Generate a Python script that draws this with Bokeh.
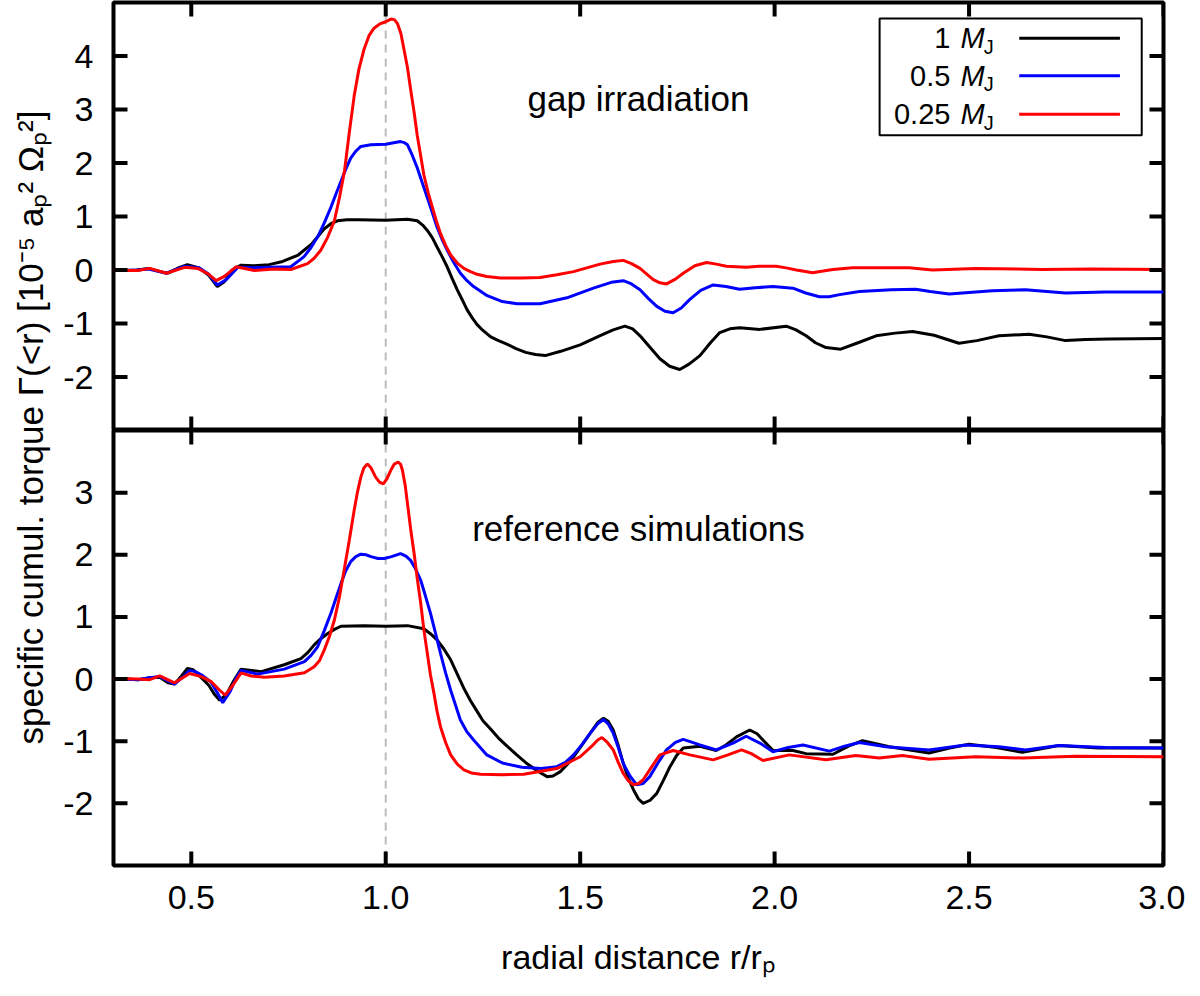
from bokeh.plotting import figure
from bokeh.layouts import column, row
from bokeh.models import Range1d, FixedTicker, Span, Label, BoxAnnotation
from bokeh.embed import file_html
from bokeh.resources import INLINE

# ---- values: (r/r_p, torque in 1e-5 a_p^2 Omega_p^2) ----
# top panel: gap irradiation
top_1mj = [(0.30, 0.00), (0.33, -0.01), (0.36, 0.00), (0.39, 0.03), (0.42, -0.03), (0.44, -0.06),
           (0.47, 0.05), (0.49, 0.10), (0.52, 0.04), (0.545, -0.10), (0.567, -0.31), (0.585, -0.22),
           (0.605, 0.00), (0.628, 0.09), (0.66, 0.08), (0.70, 0.10), (0.735, 0.16), (0.775, 0.28),
           (0.81, 0.49), (0.842, 0.77), (0.86, 0.87), (0.876, 0.92), (0.90, 0.94), (0.93, 0.94),
           (1.00, 0.93), (1.056, 0.95), (1.081, 0.92), (1.095, 0.84), (1.107, 0.74), (1.12, 0.60),
           (1.132, 0.43), (1.145, 0.25), (1.158, 0.06), (1.171, -0.16), (1.184, -0.37), (1.197, -0.56),
           (1.209, -0.74), (1.222, -0.89), (1.235, -1.02), (1.25, -1.13), (1.27, -1.25), (1.29, -1.32),
           (1.31, -1.38), (1.335, -1.47), (1.36, -1.54), (1.385, -1.58), (1.41, -1.60), (1.45, -1.52),
           (1.50, -1.40), (1.55, -1.23), (1.585, -1.12), (1.615, -1.05), (1.635, -1.10), (1.654, -1.23),
           (1.68, -1.45), (1.705, -1.66), (1.73, -1.80), (1.756, -1.86), (1.78, -1.76), (1.808, -1.60),
           (1.835, -1.36), (1.859, -1.17), (1.885, -1.10), (1.91, -1.08), (1.962, -1.11), (2.03, -1.05),
           (2.055, -1.12), (2.081, -1.23), (2.105, -1.36), (2.132, -1.45), (2.17, -1.48), (2.218, -1.35),
           (2.261, -1.23), (2.31, -1.18), (2.355, -1.15), (2.41, -1.22), (2.474, -1.37), (2.52, -1.32),
           (2.577, -1.23), (2.654, -1.20), (2.70, -1.25), (2.748, -1.32), (2.80, -1.30), (2.859, -1.29),
           (3.00, -1.28)]
top_05mj = [(0.30, 0.00), (0.33, -0.01), (0.36, 0.00), (0.39, 0.02), (0.436, -0.06), (0.483, 0.07),
            (0.52, 0.04), (0.545, -0.08), (0.567, -0.28), (0.59, -0.18), (0.62, 0.05), (0.66, 0.04),
            (0.70, 0.05), (0.756, 0.06), (0.79, 0.25), (0.808, 0.42), (0.825, 0.62), (0.842, 0.88),
            (0.859, 1.17), (0.872, 1.42), (0.885, 1.66), (0.897, 1.88), (0.91, 2.09), (0.923, 2.22),
            (0.936, 2.31), (0.962, 2.34), (1.00, 2.35), (1.038, 2.40), (1.048, 2.38), (1.056, 2.34),
            (1.068, 2.15), (1.081, 1.91), (1.094, 1.63), (1.107, 1.35), (1.12, 1.07), (1.132, 0.80),
            (1.145, 0.57), (1.158, 0.37), (1.175, 0.14), (1.192, -0.06), (1.209, -0.20), (1.226, -0.31),
            (1.261, -0.48), (1.30, -0.59), (1.338, -0.63), (1.397, -0.63), (1.466, -0.52), (1.534, -0.34),
            (1.58, -0.23), (1.611, -0.20), (1.632, -0.26), (1.654, -0.37), (1.675, -0.53), (1.697, -0.68),
            (1.718, -0.77), (1.739, -0.80), (1.76, -0.71), (1.782, -0.55), (1.81, -0.38), (1.842, -0.28),
            (1.875, -0.31), (1.91, -0.36), (1.95, -0.33), (1.996, -0.31), (2.047, -0.34), (2.08, -0.43),
            (2.115, -0.50), (2.14, -0.50), (2.167, -0.46), (2.218, -0.40), (2.30, -0.37), (2.363, -0.36),
            (2.40, -0.40), (2.449, -0.45), (2.50, -0.42), (2.56, -0.39), (2.645, -0.37), (2.70, -0.40),
            (2.748, -0.43), (2.85, -0.41), (3.00, -0.41)]
top_025mj = [(0.30, 0.00), (0.33, -0.01), (0.363, -0.01), (0.393, 0.03), (0.436, -0.06), (0.483, 0.05),
             (0.517, 0.03), (0.545, -0.08), (0.564, -0.20), (0.585, -0.12), (0.615, 0.06), (0.662, -0.01),
             (0.714, 0.02), (0.756, 0.01), (0.799, 0.12), (0.816, 0.22), (0.833, 0.37), (0.85, 0.60),
             (0.868, 0.92), (0.881, 1.35), (0.894, 1.85), (0.906, 2.55), (0.919, 3.26), (0.931, 3.75),
             (0.944, 4.12), (0.957, 4.38), (0.97, 4.52), (0.985, 4.60), (1.00, 4.64), (1.013, 4.69),
             (1.022, 4.68), (1.03, 4.61), (1.039, 4.42), (1.047, 4.12), (1.056, 3.78), (1.064, 3.38),
             (1.073, 2.95), (1.081, 2.52), (1.09, 2.13), (1.098, 1.78), (1.109, 1.45), (1.12, 1.17),
             (1.13, 0.92), (1.141, 0.68), (1.154, 0.46), (1.167, 0.28), (1.184, 0.13), (1.201, 0.03),
             (1.218, -0.03), (1.235, -0.08), (1.26, -0.12), (1.295, -0.15), (1.35, -0.15), (1.397, -0.14),
             (1.44, -0.09), (1.483, -0.03), (1.551, 0.11), (1.585, 0.16), (1.611, 0.18), (1.632, 0.12),
             (1.654, 0.03), (1.672, -0.08), (1.688, -0.18), (1.705, -0.24), (1.722, -0.26), (1.745, -0.17),
             (1.765, -0.06), (1.795, 0.08), (1.825, 0.14), (1.85, 0.11), (1.876, 0.07), (1.927, 0.05),
             (1.96, 0.07), (2.004, 0.07), (2.03, 0.04), (2.056, 0.00), (2.098, -0.05), (2.125, -0.02),
             (2.15, 0.01), (2.20, 0.04), (2.346, 0.04), (2.406, 0.00), (2.517, 0.03), (2.688, 0.01),
             (2.816, 0.02), (3.00, 0.01)]

# bottom panel: reference simulations
bot_1mj = [(0.30, 0.00), (0.33, 0.00), (0.363, -0.01), (0.393, 0.02), (0.419, 0.03), (0.44, -0.06),
           (0.457, -0.08), (0.475, 0.05), (0.49, 0.17), (0.505, 0.15), (0.52, 0.06), (0.545, -0.10),
           (0.56, -0.25), (0.573, -0.34), (0.59, -0.25), (0.61, -0.02), (0.628, 0.16), (0.68, 0.12),
           (0.739, 0.23), (0.782, 0.33), (0.80, 0.43), (0.816, 0.55), (0.833, 0.65), (0.85, 0.73),
           (0.868, 0.80), (0.885, 0.85), (0.944, 0.86), (1.00, 0.85), (1.056, 0.86), (1.098, 0.81),
           (1.115, 0.73), (1.132, 0.63), (1.15, 0.48), (1.167, 0.31), (1.184, 0.08), (1.201, -0.15),
           (1.218, -0.35), (1.235, -0.52), (1.25, -0.67), (1.269, -0.80), (1.29, -0.95), (1.312, -1.08),
           (1.337, -1.22), (1.363, -1.36), (1.39, -1.48), (1.415, -1.57), (1.43, -1.56), (1.449, -1.49),
           (1.466, -1.38), (1.483, -1.25), (1.505, -1.06), (1.526, -0.87), (1.545, -0.70), (1.56, -0.63),
           (1.572, -0.68), (1.585, -0.82), (1.598, -1.07), (1.611, -1.36), (1.624, -1.60), (1.637, -1.78),
           (1.65, -1.93), (1.662, -2.00), (1.68, -1.95), (1.697, -1.84), (1.714, -1.63), (1.731, -1.41),
           (1.748, -1.23), (1.765, -1.11), (1.808, -1.08), (1.85, -1.15), (1.875, -1.06), (1.902, -0.93),
           (1.936, -0.82), (1.955, -0.88), (1.97, -0.98), (1.996, -1.15), (2.047, -1.15), (2.081, -1.20),
           (2.15, -1.21), (2.19, -1.08), (2.226, -0.99), (2.295, -1.09), (2.397, -1.19), (2.45, -1.11),
           (2.50, -1.05), (2.57, -1.10), (2.637, -1.18), (2.731, -1.07), (2.833, -1.11), (3.00, -1.11)]
bot_05mj = [(0.30, 0.00), (0.33, 0.00), (0.363, -0.01), (0.393, 0.02), (0.419, 0.04), (0.457, -0.08),
            (0.478, 0.03), (0.496, 0.14), (0.51, 0.12), (0.526, 0.07), (0.551, -0.05), (0.567, -0.22),
            (0.581, -0.38), (0.60, -0.20), (0.614, 0.00), (0.628, 0.14), (0.671, 0.08), (0.739, 0.16),
            (0.791, 0.28), (0.808, 0.38), (0.825, 0.52), (0.842, 0.78), (0.859, 1.06), (0.872, 1.30),
            (0.885, 1.54), (0.897, 1.74), (0.91, 1.89), (0.923, 1.97), (0.936, 2.01), (0.95, 2.00),
            (0.962, 1.97), (0.98, 1.94), (0.996, 1.94), (1.015, 1.97), (1.038, 2.02), (1.052, 1.98),
            (1.064, 1.91), (1.077, 1.77), (1.09, 1.59), (1.102, 1.34), (1.115, 1.06), (1.128, 0.74),
            (1.141, 0.41), (1.154, 0.10), (1.167, -0.18), (1.18, -0.43), (1.192, -0.66), (1.209, -0.85),
            (1.226, -0.98), (1.26, -1.22), (1.30, -1.35), (1.35, -1.42), (1.40, -1.44), (1.44, -1.41),
            (1.462, -1.34), (1.483, -1.22), (1.505, -1.05), (1.526, -0.87), (1.545, -0.72), (1.56, -0.65),
            (1.572, -0.72), (1.585, -0.87), (1.598, -1.10), (1.611, -1.36), (1.628, -1.56), (1.645, -1.70),
            (1.662, -1.68), (1.679, -1.57), (1.70, -1.35), (1.722, -1.14), (1.745, -1.02), (1.765, -0.97),
            (1.808, -1.06), (1.85, -1.14), (1.893, -1.03), (1.927, -0.92), (1.962, -1.03), (1.996, -1.17),
            (2.035, -1.10), (2.073, -1.06), (2.141, -1.16), (2.18, -1.08), (2.218, -1.02), (2.286, -1.09),
            (2.397, -1.14), (2.491, -1.06), (2.577, -1.09), (2.645, -1.14), (2.731, -1.07), (2.85, -1.10),
            (3.00, -1.11)]
bot_025mj = [(0.30, 0.01), (0.363, 0.00), (0.393, -0.01), (0.419, 0.05), (0.457, -0.06), (0.478, 0.02),
             (0.496, 0.09), (0.526, 0.04), (0.551, -0.04), (0.573, -0.18), (0.587, -0.26), (0.607, -0.10),
             (0.628, 0.10), (0.654, 0.05), (0.688, 0.03), (0.739, 0.05), (0.791, 0.10), (0.816, 0.20),
             (0.83, 0.30), (0.842, 0.47), (0.855, 0.68), (0.868, 0.95), (0.881, 1.32), (0.893, 1.75),
             (0.906, 2.22), (0.919, 2.72), (0.927, 3.00), (0.936, 3.25), (0.944, 3.40), (0.953, 3.46),
             (0.962, 3.40), (0.974, 3.25), (0.984, 3.17), (0.994, 3.14), (1.003, 3.22), (1.013, 3.36),
             (1.022, 3.46), (1.032, 3.49), (1.038, 3.46), (1.043, 3.36), (1.05, 3.12), (1.056, 2.82),
             (1.064, 2.42), (1.073, 2.02), (1.081, 1.62), (1.09, 1.22), (1.098, 0.80), (1.107, 0.41),
             (1.115, 0.07), (1.124, -0.23), (1.132, -0.52), (1.141, -0.77), (1.154, -1.02), (1.167, -1.22),
             (1.184, -1.37), (1.201, -1.46), (1.22, -1.51), (1.244, -1.53), (1.30, -1.54), (1.355, -1.53),
             (1.44, -1.44), (1.50, -1.25), (1.53, -1.08), (1.545, -0.98), (1.556, -0.94), (1.57, -1.02),
             (1.585, -1.14), (1.598, -1.34), (1.611, -1.52), (1.624, -1.64), (1.637, -1.70), (1.65, -1.68),
             (1.662, -1.62), (1.683, -1.42), (1.705, -1.22), (1.739, -1.15), (1.782, -1.22), (1.842, -1.30),
             (1.88, -1.22), (1.915, -1.14), (1.94, -1.20), (1.97, -1.31), (2.038, -1.22), (2.132, -1.30),
             (2.209, -1.23), (2.269, -1.27), (2.329, -1.23), (2.397, -1.29), (2.517, -1.25), (2.637, -1.27),
             (2.774, -1.24), (3.00, -1.25)]

labels = ["1", "0.5", "0.25"]
colors = ["#000000", "#0000ff", "#ff0000"]
x_ticks = [0.5, 1.0, 1.5, 2.0, 2.5, 3.0]
top_y_ticks = [-2, -1, 0, 1, 2, 3, 4]
bot_y_ticks = [-2, -1, 0, 1, 2, 3]

FONT = "Liberation Sans"
X0, X1 = 0.3, 3.0
FRAME_W = 1050
TICK_LEN = 14  # px, inward


def make_panel(ylo, yhi, yticks, frame_h, min_top, min_bottom):
    p = figure(frame_width=FRAME_W, frame_height=frame_h, x_range=Range1d(X0, X1),
               y_range=Range1d(ylo, yhi), output_backend="svg", toolbar_location=None,
               min_border_left=52, min_border_right=22, min_border_top=min_top,
               min_border_bottom=min_bottom)
    p.grid.visible = False
    p.outline_line_color = "black"
    p.outline_line_width = 4
    p.outline_line_alpha = 1
    p.background_fill_color = "white"
    p.border_fill_color = "white"

    ax = p.yaxis[0]
    ax.ticker = FixedTicker(ticks=yticks)
    ax.major_label_overrides = {t: "%d" % t for t in yticks}
    ax.axis_line_color = None
    ax.major_tick_line_color = None
    ax.minor_tick_line_color = None
    ax.major_tick_out = 0
    ax.major_tick_in = 0
    ax.major_label_standoff = 20
    ax.major_label_text_font = FONT
    ax.major_label_text_font_size = "34px"
    ax.major_label_text_color = "black"

    p.add_layout(Span(location=1.0, dimension="height", line_color="#bbbbbb",
                      line_width=2, line_dash="8 6", level="underlay"))
    return p


def add_ticks(p, ylo, yhi, yticks, frame_h):
    # inward tick marks on all four sides (gnuplot "mirror" style), added last
    dx = TICK_LEN * (X1 - X0) / FRAME_W
    dy = TICK_LEN * (yhi - ylo) / frame_h
    for t in x_ticks:
        p.segment(x0=[t], y0=[ylo], x1=[t], y1=[ylo + dy], line_color="black", line_width=4)
        p.segment(x0=[t], y0=[yhi], x1=[t], y1=[yhi - dy], line_color="black", line_width=4)
    for t in yticks:
        p.segment(x0=[X0], y0=[t], x1=[X0 + dx], y1=[t], line_color="black", line_width=4)
        p.segment(x0=[X1], y0=[t], x1=[X1 - dx], y1=[t], line_color="black", line_width=4)


top = make_panel(-3, 5, top_y_ticks, 428, 2, 0)
top.xaxis.visible = False
bot = make_panel(-3, 4, bot_y_ticks, 435, 0, 110)

xa = bot.xaxis[0]
xa.ticker = FixedTicker(ticks=x_ticks)
xa.major_label_overrides = {t: "%.1f" % t for t in x_ticks}
xa.axis_line_color = None
xa.major_tick_line_color = None
xa.minor_tick_line_color = None
xa.major_tick_out = 0
xa.major_tick_in = 0
xa.major_label_standoff = 20
xa.major_label_text_font = FONT
xa.major_label_text_font_size = "34px"
xa.major_label_text_color = "black"
xa.axis_label = "radial distance r/rₚ"
xa.axis_label_text_font = FONT
xa.axis_label_text_font_size = "34px"
xa.axis_label_text_font_style = "normal"
xa.axis_label_text_color = "black"
xa.axis_label_standoff = 26

for pts, c in zip([top_1mj, top_05mj, top_025mj], colors):
    xs, ys = zip(*pts)
    top.line(list(xs), list(ys), line_color=c, line_width=3)
for pts, c in zip([bot_1mj, bot_05mj, bot_025mj], colors):
    xs, ys = zip(*pts)
    bot.line(list(xs), list(ys), line_color=c, line_width=3)

top.add_layout(Label(x=1.65, y=3.2, text="gap irradiation", text_align="center",
                     text_baseline="alphabetic", text_font=FONT, text_font_size="35px",
                     text_color="black"))
bot.add_layout(Label(x=1.65, y=2.42, text="reference simulations", text_align="center",
                     text_baseline="alphabetic", text_font=FONT, text_font_size="35px",
                     text_color="black"))

# legend in gnuplot style: label on the left, line sample on the right
top.add_layout(BoxAnnotation(left=2.27, right=2.944, bottom=2.52, top=4.70,
                             fill_alpha=0, line_color="black", line_width=2, line_alpha=1))
row_y = [4.33, 3.63, 2.91]
for lab, c, ry in zip(labels, colors, row_y):
    top.segment(x0=[2.629], y0=[ry], x1=[2.888], y1=[ry], line_color=c, line_width=3)
    top.add_layout(Label(x=2.452, y=ry, text=lab, text_align="right", text_baseline="middle",
                         text_font=FONT, text_font_size="29px", text_color="black"))
    top.add_layout(Label(x=2.478, y=ry, text="M", text_align="left", text_baseline="middle",
                         text_font=FONT, text_font_size="29px", text_font_style="italic",
                         text_color="black"))
    top.add_layout(Label(x=2.538, y=ry - 0.16, text="J", text_align="left", text_baseline="middle",
                         text_font=FONT, text_font_size="20px", text_color="black"))

add_ticks(top, -3, 5, top_y_ticks, 428)
add_ticks(bot, -3, 4, bot_y_ticks, 435)

# y-axis title spanning both panels
ylab = figure(width=60, height=975, x_range=Range1d(0, 1), y_range=Range1d(0, 1),
              x_axis_type=None, y_axis_type=None, output_backend="svg", toolbar_location=None,
              min_border=0)
ylab.grid.visible = False
ylab.outline_line_color = None
ylab.add_layout(Label(x=0.5, y=0.562, text="specific cumul. torque Γ(<r) [10⁻⁵ aₚ² Ωₚ²]",
                      angle=90, angle_units="deg", text_align="center", text_baseline="middle",
                      text_font=FONT, text_font_size="35px", text_color="black"))

layout = row(ylab, column(top, bot))
open("out.html", "w").write(file_html(layout, INLINE))
